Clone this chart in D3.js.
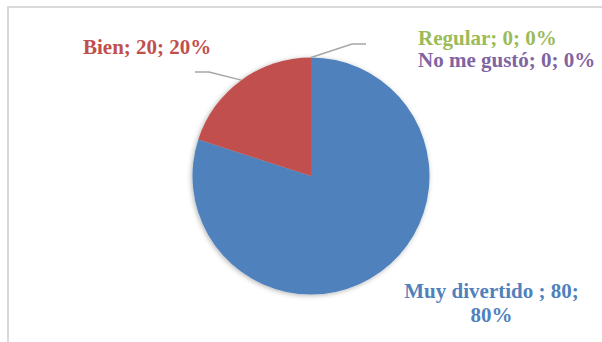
<!DOCTYPE html>
<html><head><meta charset="utf-8">
<script src="https://cdn.jsdelivr.net/npm/d3@7"></script>
<style>html,body{margin:0;padding:0;background:#fff;}svg{display:block;}</style>
</head><body>
<svg id="c" width="602" height="342"></svg>
<script>
const categories = ["Muy divertido ", "Bien", "Regular", "No me gustó"];
const values = [80, 20, 0, 0];
const percents = ["80%", "20%", "0%", "0%"];
const colors = ["#4F81BD", "#C0504D", "#9BBB59", "#8064A2"];

const svg = d3.select("#c");
// frame
svg.append("rect").attr("x", 8).attr("y", 7).attr("width", 620).attr("height", 360)
  .attr("fill", "#fff").attr("stroke", "#d9d9d9").attr("stroke-width", 2);

const defs = svg.append("defs");
const f = defs.append("filter").attr("id", "sh").attr("x", "-20%").attr("y", "-20%").attr("width", "140%").attr("height", "140%");
f.append("feDropShadow").attr("dx", -1).attr("dy", 1).attr("stdDeviation", 2.5).attr("flood-color", "#000").attr("flood-opacity", 0.3);

const cx = 311, cy = 176, r = 118.5;
const pie = d3.pie().sort(null).value(d => d.v)(categories.map((c, i) => ({c, v: values[i], i})));
const arc = d3.arc().innerRadius(0).outerRadius(r);
const g = svg.append("g").attr("transform", `translate(${cx},${cy})`);
g.append("g").attr("filter", "url(#sh)").selectAll("path").data(pie.filter(d => d.value > 0)).join("path")
  .attr("d", arc).attr("fill", d => colors[d.data.i]);

// leader lines
function pt(d) { const a = (d.startAngle + d.endAngle) / 2; return [cx + r * Math.sin(a), cy - r * Math.cos(a)]; }
const leaders = [
  {d: pie[1], elbow: [209, 72], end: [195, 72]},
  {d: pie[2], elbow: [352, 44], end: [366, 44]}
];
leaders.forEach(l => {
  const p = pt(l.d);
  svg.append("polyline").attr("points", [p, l.elbow, l.end].map(q => q.join(",")).join(" "))
    .attr("fill", "none").attr("stroke", "#a6a6a6").attr("stroke-width", 1.5);
});

const font = "'Liberation Serif','Times New Roman',serif";
function lab(x, y, lines, color, anchor) {
  const t = svg.append("text").attr("x", x).attr("y", y).attr("fill", color)
    .attr("font-family", font).attr("font-weight", "bold").attr("font-size", 21).attr("text-anchor", anchor);
  lines.forEach((s, k) => t.append("tspan").attr("x", x).attr("dy", k ? 24.5 : 0).text(s));
}
lab(83, 53.5, [`${categories[1]}; ${values[1]}; ${percents[1]}`], colors[1], "start");
lab(418, 44.5, [`${categories[2]}; ${values[2]}; ${percents[2]}`], colors[2], "start");
lab(418, 67, [`${categories[3]}; ${values[3]}; ${percents[3]}`], colors[3], "start");
lab(491.5, 297.5, [`${categories[0]}; ${values[0]};`, percents[0]], colors[0], "middle");
</script>
</body></html>
